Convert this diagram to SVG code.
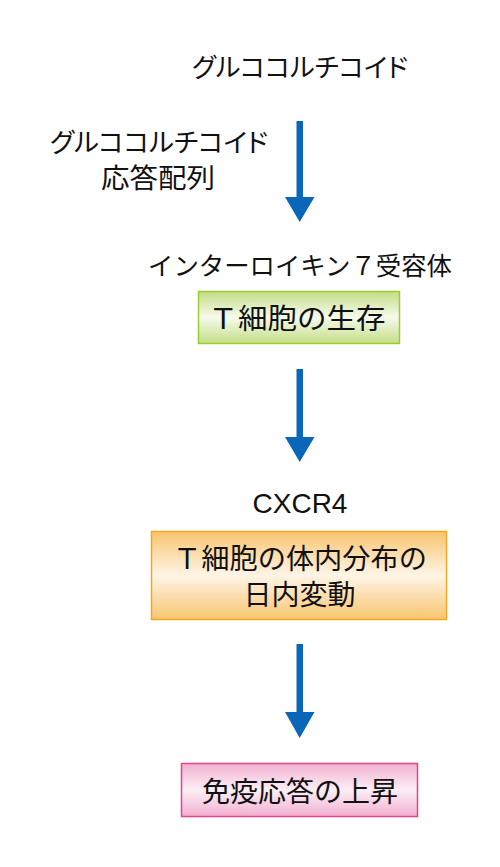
<svg xmlns="http://www.w3.org/2000/svg" width="500" height="867" viewBox="0 0 500 867">
<defs>
<style>
.t{font-family:"Noto Sans CJK JP","Liberation Sans",sans-serif;fill:#111;text-anchor:middle;dominant-baseline:central}
.p{font-feature-settings:"palt"}
.s25{font-size:25px}
.s26{font-size:26px}
.s27{font-size:27px}
.s28{font-size:28px}
.lat{font-family:"Liberation Sans","Noto Sans",sans-serif;font-size:28px;fill:#111;text-anchor:middle}
.arr{fill:#0a66b8}
</style>
<linearGradient id="gG" x1="0" y1="0" x2="0" y2="1">
<stop offset="0" stop-color="#c3de85"/><stop offset="0.5" stop-color="#f6faec"/><stop offset="1" stop-color="#c3de85"/>
</linearGradient>
<linearGradient id="gO" x1="0" y1="0" x2="0" y2="1">
<stop offset="0" stop-color="#f8c56e"/><stop offset="0.5" stop-color="#fef4e6"/><stop offset="1" stop-color="#f8c56e"/>
</linearGradient>
<linearGradient id="gP" x1="0" y1="0" x2="0" y2="1">
<stop offset="0" stop-color="#f2b0d0"/><stop offset="0.5" stop-color="#fceef5"/><stop offset="1" stop-color="#f2b0d0"/>
</linearGradient>
</defs>
<rect width="500" height="867" fill="#fff"/>
<g id="connectors">
<path class="arr" d="M296.5 121 H303 V197 H314.5 L299.7 222 L285 197 H296.5 Z"/>
<path class="arr" d="M296.5 369 H303 V437 H314.5 L299.7 462 L285 437 H296.5 Z"/>
<path class="arr" d="M296.5 644 H303 V712 H314.5 L299.7 738 L285 712 H296.5 Z"/>
</g>
<g id="glucocorticoid">
<text class="t p s26" x="300" y="65" textLength="216" lengthAdjust="spacingAndGlyphs">グルココルチコイド</text>
</g>
<g id="gre">
<text class="t p s26" x="159" y="140" textLength="218" lengthAdjust="spacingAndGlyphs">グルココルチコイド</text>
<text class="t s27" x="158" y="176" textLength="114" lengthAdjust="spacingAndGlyphs">応答配列</text>
</g>
<g id="il7r">
<text class="t s25" x="300" y="264" textLength="304" lengthAdjust="spacingAndGlyphs">インターロイキン７受容体</text>
</g>
<g id="tcell-survival">
<rect x="198.5" y="291.5" width="201" height="52" fill="url(#gG)" stroke="#9acd32" stroke-width="1.5"/>
<text class="t s28" x="297" y="317" textLength="177" lengthAdjust="spacingAndGlyphs">Ｔ細胞の生存</text>
</g>
<g id="cxcr4">
<text class="lat" x="300" y="513">CXCR4</text>
</g>
<g id="tcell-distribution">
<rect x="151.5" y="531.5" width="295" height="88" fill="url(#gO)" stroke="#f5a623" stroke-width="1.5"/>
<text class="t s28" x="300" y="557" textLength="254" lengthAdjust="spacingAndGlyphs">Ｔ細胞の体内分布の</text>
<text class="t s28" x="299.5" y="593">日内変動</text>
</g>
<g id="immune-response">
<rect x="181.5" y="763.5" width="236" height="53" fill="url(#gP)" stroke="#e8408a" stroke-width="1.5"/>
<text class="t s28" x="300" y="790">免疫応答の上昇</text>
</g>
</svg>
